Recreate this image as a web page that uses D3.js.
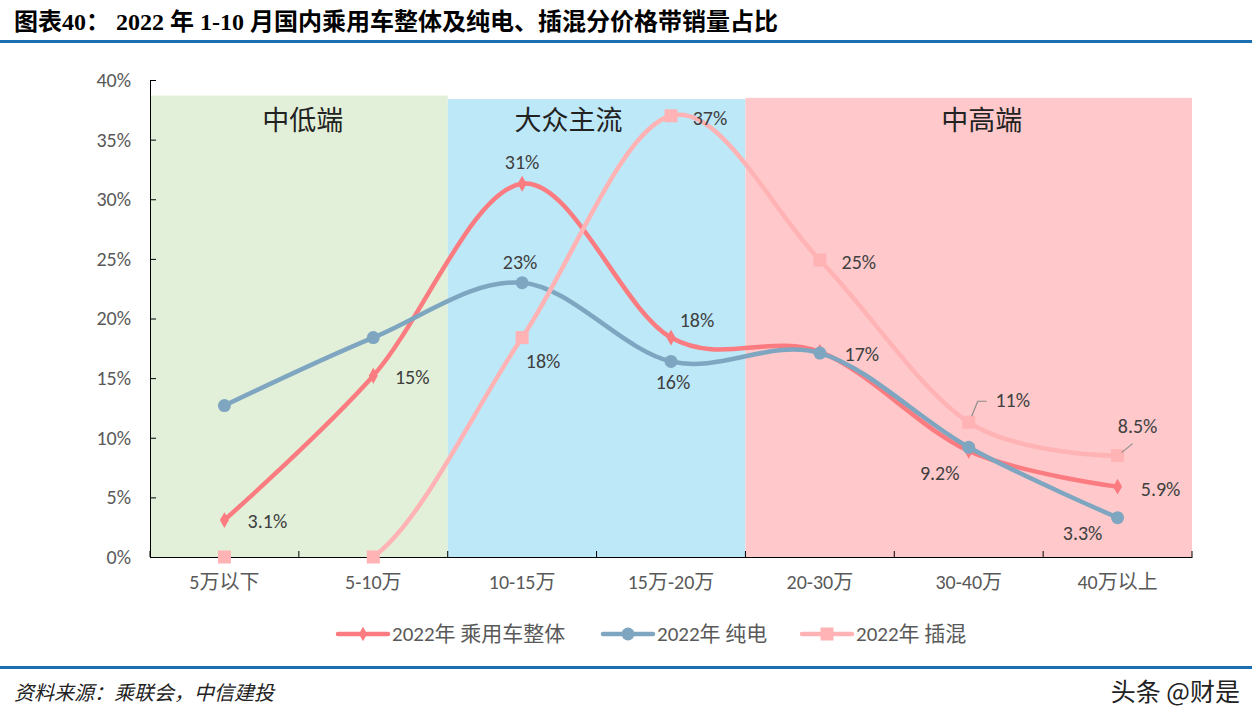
<!DOCTYPE html>
<html><head><meta charset="utf-8">
<script src="https://cdn.jsdelivr.net/npm/d3@7/dist/d3.min.js"></script>
<style>body{margin:0;background:#fff}svg{display:block}</style>
</head><body><svg id="c" width="1252" height="727"></svg>
<script>
const categories = ["5万以下","5-10万","10-15万","15万-20万","20-30万","30-40万","40万以上"];
const overall = [3.1, 15.2, 31.3, 18.4, 17.2, 8.9, 5.9];
const bev = [12.7, 18.4, 23.0, 16.4, 17.1, 9.2, 3.3];
const phev = [0, 0, 18.4, 37.0, 24.9, 11.3, 8.5];
const yTicks = [0,5,10,15,20,25,30,35,40];
const bandNames = ["中低端","大众主流","中高端"];
const bandFrom = [0, 2, 4];
const bandTo = [1, 3, 6];
const bandTop = [38.7, 38.4, 38.5];
const seriesNames = ["2022年 乘用车整体","2022年 纯电","2022年 插混"];
const labelTexts = [
  ["3.1%","15%","31%","18%","17%",null,"5.9%"],
  [null,null,"23%","16%",null,"9.2%","3.3%"],
  [null,null,"18%","37%","25%","11%","8.5%"]
];

// ---- styling / layout ----
const bandColors = ["#E2F0D9","#BDE8F8","#FFC9CB"];
const bandLabelShift = [4, -28, 13];
const labelOffsets = [
  [[43,1],[39,1],[0,-22],[26,-18],[42,2],null,[43,2]],
  [null,null,[-2,-21],[2,21],null,[-29,26],[-35,15]],
  [null,null,[21,23],[39,2],[39,2],[44,-22],[20,-30]]
];

const svg = d3.select("#c");
const L=150, R=1192, T=80, B=557;
const x = d3.scaleBand().domain(categories).range([L,R]);
const y = d3.scaleLinear().domain([0,40]).range([B,T]);
const xc = i => x(categories[i]) + x.bandwidth()/2;

// title
svg.append("text").attr("x",14).attr("y",30)
  .attr("font-family","'Liberation Serif','Noto Sans CJK SC',serif").attr("font-weight","bold")
  .attr("font-size",24).attr("fill","#000")
  .text("图表40：  2022 年 1-10 月国内乘用车整体及纯电、插混分价格带销量占比");
svg.append("rect").attr("x",0).attr("y",40).attr("width",1252).attr("height",3).attr("fill","#1B6EAF");
svg.append("rect").attr("x",0).attr("y",666).attr("width",1252).attr("height",3).attr("fill","#1B6EAF");
svg.append("text").attr("x",14).attr("y",700).attr("font-family","'Noto Sans CJK SC',sans-serif")
  .attr("font-style","italic").attr("font-size",20).attr("fill","#222")
  .text("资料来源：乘联会，中信建投");
svg.append("text").attr("x",1240).attr("y",701).attr("text-anchor","end").attr("font-family","'Noto Sans CJK SC',sans-serif")
  .attr("font-size",25).attr("fill","#222").text("头条 @财是");

// bands
bandNames.forEach((name,b)=>{
  const x0 = x(categories[bandFrom[b]]), x1 = x(categories[bandTo[b]]) + x.bandwidth();
  svg.append("rect").attr("x",x0).attr("y",y(bandTop[b])).attr("width",x1-x0).attr("height",y(0)-y(bandTop[b])).attr("fill",bandColors[b]);
  svg.append("text").attr("x",(x0+x1)/2 + bandLabelShift[b]).attr("y",130).attr("text-anchor","middle")
    .attr("font-family","'Noto Sans CJK SC',sans-serif").attr("font-size",27).attr("fill","#222").text(name);
});

// axes
const ya = svg.append("g").attr("transform",`translate(${L},0)`)
  .call(d3.axisLeft(y).tickValues(yTicks).tickFormat(d=>d+"%").tickSizeInner(-6).tickSizeOuter(-6).tickPadding(19));
ya.select(".domain").attr("stroke","#000");
ya.selectAll(".tick line").attr("stroke","#000");
ya.selectAll("text").attr("font-family","Carlito,'Open Sans',sans-serif").attr("font-size",20).attr("fill","#595959");

const xa = svg.append("g").attr("transform",`translate(0,${B})`)
  .call(d3.axisBottom(x).tickSize(0).tickPadding(18));
xa.select(".domain").attr("stroke","#000");
xa.selectAll("text").attr("font-family","Carlito,'Open Sans','Noto Sans CJK SC',sans-serif").attr("font-size",20).attr("fill","#595959");
d3.range(categories.length+1).forEach(i=>{
  const xx = L + i*x.bandwidth();
  svg.append("line").attr("x1",xx).attr("x2",xx).attr("y1",B).attr("y2",B-6).attr("stroke","#000");
});

// clip for lines
svg.append("clipPath").attr("id","pc").append("rect").attr("x",L).attr("y",T-10).attr("width",R-L).attr("height",B-T+10);

// series
const colors = ["#FB7C80","#7FA6C0","#FFB3B5"];
const datas = [overall,bev,phev];
const curve = d3.curveCardinal.tension(0);
const lineGen = d3.line().x((d,i)=>xc(i)).y(d=>y(d)).curve(curve);
function marker(g, k, cx, cy, size){
  if(k===0){ g.append("path").attr("d",d3.symbol(d3.symbolDiamond,size*12)()).attr("transform",`translate(${cx},${cy})`).attr("fill",colors[0]); }
  else if(k===1){ g.append("circle").attr("cx",cx).attr("cy",cy).attr("r",size).attr("fill",colors[1]); }
  else { g.append("rect").attr("x",cx-size).attr("y",cy-size).attr("width",size*2).attr("height",size*2).attr("fill",colors[2]); }
}
datas.forEach((d,k)=>{
  const g = svg.append("g");
  g.append("path").attr("d",lineGen(d)).attr("fill","none").attr("stroke",colors[k]).attr("stroke-width",4.5).attr("clip-path","url(#pc)");
  d.forEach((v,i)=>marker(g,k,xc(i),y(v),k===0?6:6.5));
});

// leader lines
svg.append("path").attr("d",`M${xc(5)+3},${y(phev[5])-6} L${xc(5)+9},${y(phev[5])-21} L${xc(5)+18},${y(phev[5])-21}`).attr("fill","none").attr("stroke","#8c8c8c").attr("stroke-width",1.2);
svg.append("path").attr("d",`M${xc(6)+4},${y(phev[6])-3} L${xc(6)+15},${y(phev[6])-12}`).attr("fill","none").attr("stroke","#8c8c8c").attr("stroke-width",1.2);

// labels
labelTexts.forEach((row,s)=>row.forEach((t,i)=>{
  if(!t) return;
  const [dx,dy] = labelOffsets[s][i];
  svg.append("text").attr("x",xc(i)+dx).attr("y",y(datas[s][i])+dy).attr("dy","0.35em")
    .attr("text-anchor","middle").attr("font-family","Carlito,'Open Sans',sans-serif").attr("font-size",20).attr("fill","#404040").text(t);
}));

// legend
const lg = svg.append("g");
const legX = [338, 603, 802];
seriesNames.forEach((n,k)=>{
  const cx = legX[k];
  lg.append("line").attr("x1",cx).attr("x2",cx+50).attr("y1",634).attr("y2",634).attr("stroke",colors[k]).attr("stroke-width",4.5).attr("stroke-linecap","round");
  marker(lg,k,cx+25,634,k===0?5:6.5);
  lg.append("text").attr("x",cx+54).attr("y",634).attr("dy","0.35em").attr("font-family","Carlito,'Open Sans','Noto Sans CJK SC',sans-serif")
    .attr("font-size",21).attr("fill","#595959").text(n);
});
</script></body></html>
